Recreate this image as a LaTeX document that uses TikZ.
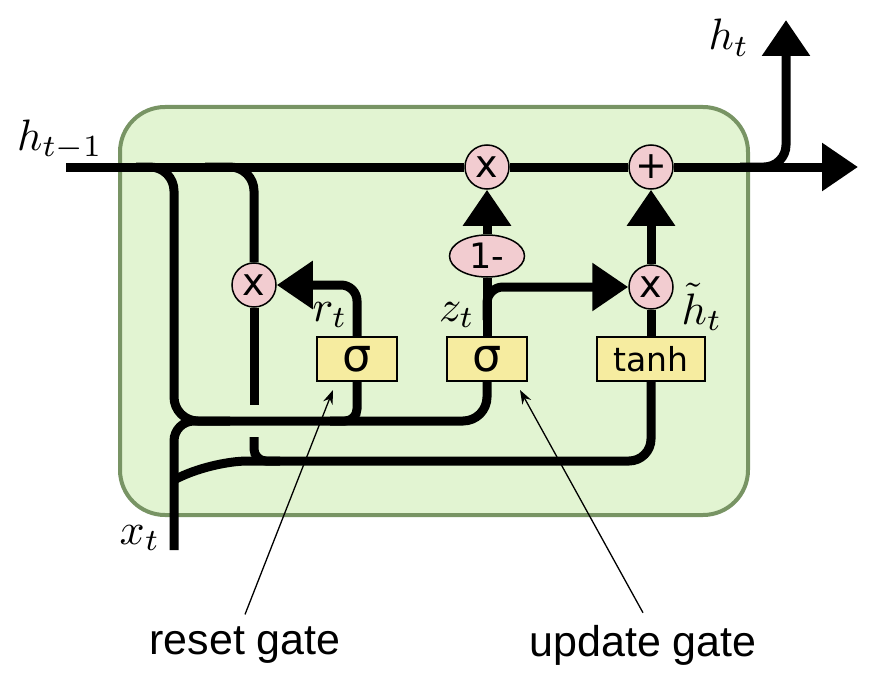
\documentclass[tikz,border=0pt]{standalone}
\usepackage{fontspec}
\usepackage{tikz}
\usetikzlibrary{arrows.meta}
\usetikzlibrary{shapes, positioning, calc}
\newfontfamily\gatefont{DejaVu Sans}
\newfontfamily\notefont{Liberation Sans}
\definecolor{cellgreen}{RGB}{226,244,210}
\definecolor{cellborder}{RGB}{120,148,100}
\definecolor{oppink}{RGB}{242,204,208}
\definecolor{gateyellow}{RGB}{246,236,160}

\begin{document}
\begin{tikzpicture}[x=1pt,y=-1pt,
  flow/.style={line width=9pt, black},
  flow arrow/.style={flow, -{Triangle[length=36pt,width=46pt]}},
  op node/.style={circle, draw, line width=1.5pt, fill=oppink, minimum size=44pt, inner sep=0pt, font=\gatefont\fontsize{38}{38}\selectfont},
  neg node/.style={ellipse, draw, line width=1.5pt, fill=oppink, minimum width=75pt, minimum height=42pt, inner sep=0pt, font=\gatefont\fontsize{35}{35}\selectfont},
  gate node/.style={rectangle, draw, line width=1.5pt, fill=gateyellow, minimum width=80pt, minimum height=44pt, inner sep=0pt, font=\gatefont\fontsize{33}{33}\selectfont},
  var label/.style={inner sep=0pt, scale=4.4},
  note label/.style={inner sep=0pt, font=\notefont\fontsize{43}{48}\selectfont},
  pointer/.style={line width=1.3pt, -{Stealth[length=14pt,width=10pt]}}]
  \useasboundingbox (0,0) rectangle (886,690);
  % cell
  \draw[line width=4pt, draw=cellborder, fill=cellgreen, rounded corners=45pt] (120,107) rectangle (748,515);

  \node[op node] (mulz) at (487,167) {x};
  \node[op node] (add) at (651,167) {+};
  \node[op node] (mulr) at (254,285) {x};
  \node[op node] (mulh) at (651,287) {x};
  \node[neg node] (onem) at (487,256) {1-};
  \node[gate node, font=\gatefont\fontsize{46}{46}\selectfont] (sigr) at (357,359) {σ};
  \node[gate node, font=\gatefont\fontsize{46}{46}\selectfont] (sigz) at (487,359) {σ};
  \node[gate node, minimum width=108pt] (tanh) at (651,359) {tanh};

  \coordinate (hin) at (66,167);
  \coordinate (hout) at (858,167);
  \coordinate (split) at (740,167);
  \coordinate (htop) at (786,20);
  \coordinate (xin) at (174,550);
  \coordinate (zsplit) at (487,320);
  \coordinate (gapup) at (254,405);
  \coordinate (gapdown) at (254,437);
  \coordinate (resettip) at (333,390);
  \coordinate (updatetip) at (520,390);

  % state line
  \draw[flow] (hin) -- (mulz);
  \draw[flow] (mulz) -- (add);
  \draw[flow arrow] (add) -- (hout);
  \draw[flow arrow, rounded corners=22pt] (split) -| (htop);

  % inputs to the gates
  \draw[flow, rounded corners=24pt] (136,167) -| (174,421) -| (sigz.south);
  \draw[flow, rounded corners=20pt] (xin) |- (230,421);
  \draw[flow, rounded corners=12pt] (330,421) -| (sigr.south);
  \draw[flow, rounded corners=24pt] (205,167) -| (mulr.north);
  \draw[flow] (mulr) -- (gapup);
  \draw[flow, rounded corners=12pt] (gapdown) |- (280,461);
  \draw[flow, rounded corners=22pt] (174,480) .. controls (196,468) and (228,461) .. (270,461) -| (tanh.south);

  % gate outputs
  \draw[flow arrow, rounded corners=16pt] (sigr.north) |- (mulr.east);
  \draw[flow] (sigz) -- (onem);
  \draw[flow arrow] (onem) -- (mulz);
  \draw[flow arrow, rounded corners=16pt] (zsplit) |- (mulh.west);
  \draw[flow] (tanh) -- (mulh);
  \draw[flow arrow] (mulh) -- (add);

  \node[var label] (hprev) at (60,140) {$h_{t-1}$};
  \node[var label] (hnext) at (729,38) {$h_t$};
  \node[var label] (rlbl) at (330,315) {$r_t$};
  \node[var label] (zlbl) at (457,315) {$z_t$};
  \node[var label] (hlbl) at (702,307) {$\tilde{h}_t$};
  \node[var label] (xlbl) at (140,538) {$x_t$};

  \node[note label] (reset) at (245,645) {reset gate};
  \node[note label] (update) at (643,645) {update gate};
  \draw[pointer] (reset.north) ++(0,-12) -- (resettip);
  \draw[pointer] (update.north) ++(0,-12) -- (updatetip);
\end{tikzpicture}
\end{document}
